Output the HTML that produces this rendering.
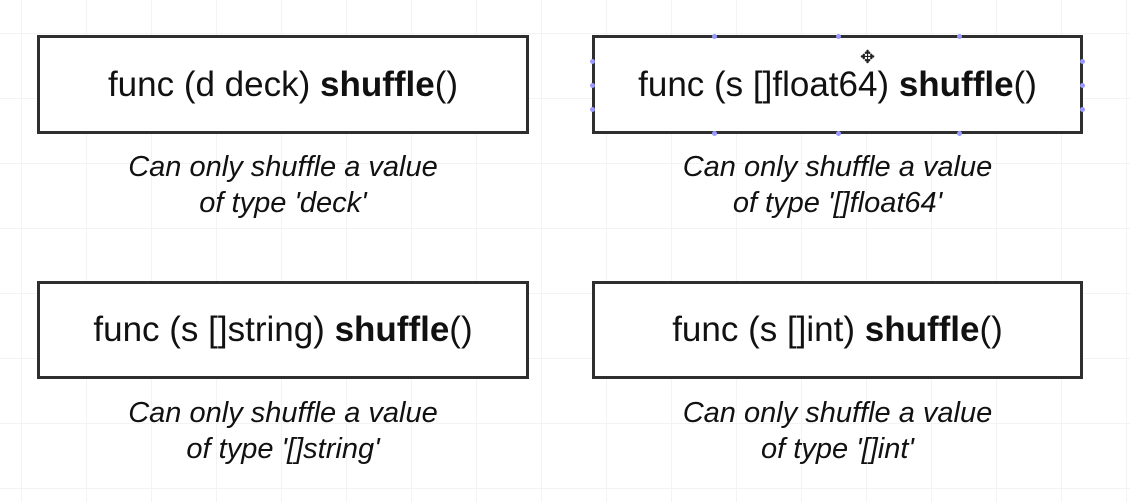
<!DOCTYPE html>
<html><head><style>
body{margin:0;width:1130px;height:502px;overflow:hidden;background:#fff;font-family:"Liberation Sans",sans-serif;
background-image:linear-gradient(#f3f3f3 1px,transparent 1px),linear-gradient(90deg,#f3f3f3 1px,transparent 1px);
background-size:65px 65px;background-position:21px 33px;position:relative}
.b{position:absolute;border:3px solid #2e2e2e;background:#fff;box-sizing:border-box;display:flex;align-items:center;justify-content:center;font-size:35px;color:#111}
.c{position:absolute;text-align:center;font-style:italic;font-size:29px;line-height:36px;color:#111}
.h{position:absolute;width:5px;height:5px;background:#99f;border-radius:50%}
</style></head><body>
<div class="b" style="left:37px;top:35px;width:492px;height:99px">func (d deck)&nbsp;<b>shuffle</b>()</div>
<div class="b" style="left:592px;top:35px;width:491px;height:99px">func (s []float64)&nbsp;<b>shuffle</b>()</div>
<div class="b" style="left:37px;top:281px;width:492px;height:98px">func (s []string)&nbsp;<b>shuffle</b>()</div>
<div class="b" style="left:592px;top:281px;width:491px;height:98px">func (s []int)&nbsp;<b>shuffle</b>()</div>
<div class="c" style="left:37px;width:492px;top:149px">Can only shuffle a value<br>of type 'deck'</div>
<div class="c" style="left:592px;width:491px;top:149px">Can only shuffle a value<br>of type '[]float64'</div>
<div class="c" style="left:37px;width:492px;top:395px">Can only shuffle a value<br>of type '[]string'</div>
<div class="c" style="left:592px;width:491px;top:395px">Can only shuffle a value<br>of type '[]int'</div>
<div class="h" style="left:712px;top:34px"></div><div class="h" style="left:836px;top:34px"></div><div class="h" style="left:957px;top:34px"></div>
<div class="h" style="left:712px;top:131px"></div><div class="h" style="left:836px;top:131px"></div><div class="h" style="left:957px;top:131px"></div>
<div class="h" style="left:590px;top:59px"></div><div class="h" style="left:590px;top:83px"></div><div class="h" style="left:590px;top:107px"></div>
<div class="h" style="left:1080px;top:59px"></div><div class="h" style="left:1080px;top:83px"></div><div class="h" style="left:1080px;top:107px"></div>
<div style="position:absolute;left:860px;top:47px;font-size:18px;color:#222">✥</div>
</body></html>
